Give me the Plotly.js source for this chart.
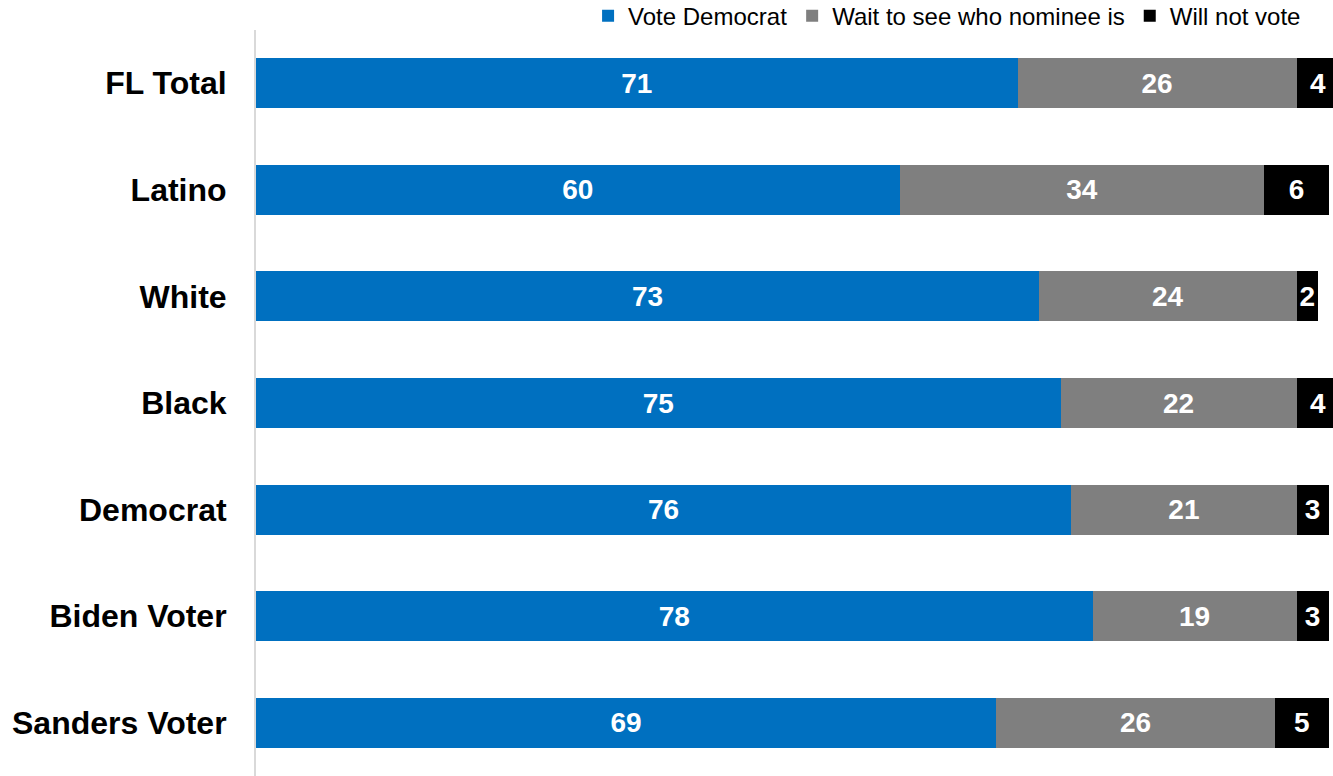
<!DOCTYPE html>
<html>
<head>
<meta charset="utf-8">
<script src="https://cdn.plot.ly/plotly-3.0.1.min.js"></script>
<style>html,body{margin:0;padding:0;background:#fff;}#chart{width:1333px;height:776px;}</style>
</head>
<body>
<div id="chart"></div>
<script>
const categories = ["FL Total", "Latino", "White", "Black", "Democrat", "Biden Voter", "Sanders Voter"];
const voteDemocrat = [71, 60, 73, 75, 76, 78, 69];
const waitToSee = [26, 34, 24, 22, 21, 19, 26];
const willNotVote = [4, 6, 2, 4, 3, 3, 5];
const seriesNames = ["Vote Democrat", "Wait to see who nominee is", "Will not vote"];
const seriesColors = ["#0070C0", "#7F7F7F", "#000000"];

const FONT = '"Liberation Sans", Arial, sans-serif';
const seriesValues = [voteDemocrat, waitToSee, willNotVote];

const traces = seriesValues.map((vals, i) => ({
  type: 'bar',
  orientation: 'h',
  name: seriesNames[i],
  y: categories,
  x: vals,
  marker: {color: seriesColors[i], line: {width: 0}},
  text: vals.map(String),
  texttemplate: '%{text}',
  textposition: 'inside',
  insidetextanchor: 'middle',
  constraintext: 'none',
  textfont: {family: FONT, size: 28, color: '#ffffff', weight: 'bold'},
  hoverinfo: 'skip'
}));

const layout = {
  width: 1333,
  height: 776,
  barmode: 'stack',
  bargap: 0.53,
  paper_bgcolor: '#ffffff',
  plot_bgcolor: '#ffffff',
  margin: {l: 256, r: 0, t: 30, b: 0, autoexpand: false},
  uniformtext: {minsize: 28, mode: 'show'},
  showlegend: true,
  legend: {
    orientation: 'h',
    x: 0.975, xanchor: 'right',
    y: 1.0187, yanchor: 'middle',
    font: {family: FONT, size: 24, color: '#000000'},
    traceorder: 'normal',
    bgcolor: 'rgba(0,0,0,0)'
  },
  xaxis: {
    range: [0, 100.4],
    showgrid: false,
    zeroline: false,
    showticklabels: false,
    showline: false,
    ticks: ''
  },
  yaxis: {
    autorange: 'reversed',
    showgrid: false,
    zeroline: false,
    showline: true,
    linecolor: '#D9D9D9',
    linewidth: 2,
    ticks: '',
    ticklabelstandoff: 21,
    automargin: false,
    tickfont: {family: FONT, size: 32, color: '#000000', weight: 'bold'}
  }
};

Plotly.newPlot('chart', traces, layout, {displayModeBar: false, staticPlot: true});
</script>
</body>
</html>
